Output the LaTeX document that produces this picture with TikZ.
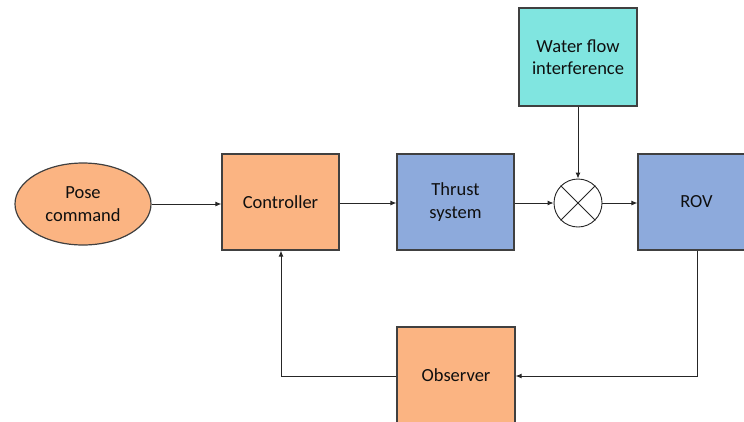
\documentclass[tikz,border=0pt]{standalone}
\usepackage{fontspec}
\setmainfont{Carlito}
\usetikzlibrary{arrows.meta,shapes.geometric}
\definecolor{boxorange}{RGB}{251,180,130}
\definecolor{boxblue}{RGB}{141,170,220}
\definecolor{boxteal}{RGB}{128,229,224}
\definecolor{edgegray}{RGB}{64,64,64}
\definecolor{txt}{RGB}{15,15,15}
\tikzset{
  block/.style={draw=edgegray, line width=1.2pt, minimum width=117pt, minimum height=96pt,
    inner sep=0pt, align=center, text=txt, font=\fontsize{18.5}{22.5}\selectfont},
  orangeblock/.style={block, fill=boxorange},
  blueblock/.style={block, fill=boxblue},
  tealblock/.style={block, fill=boxteal},
  link/.style={draw=black!85, line width=0.9pt, -{Latex[length=6pt,width=5pt]}},
  plain/.style={draw=black!85, line width=0.9pt}
}
\begin{document}
\begin{tikzpicture}[x=1pt,y=-1pt]
  \useasboundingbox (0,0) rectangle (744,421);
  \clip (0,0) rectangle (744,421);
  % blocks
  \node[ellipse, draw=edgegray, line width=1.2pt, fill=boxorange, minimum width=136pt,
    minimum height=82pt, inner sep=0pt, align=center, text=txt,
    font=\fontsize{18.5}{22.5}\selectfont] (pose) at (83,204) {Pose\\command};
  \node[orangeblock] (ctrl) at (280.5,202) {Controller};
  \node[blueblock] (thrust) at (455.5,202) {Thrust\\system};
  \node[tealblock, minimum width=118pt, minimum height=98pt] (water) at (578,57) {Water flow\\interference};
  \node[circle, draw=black!85, line width=0.9pt, fill=white, minimum size=48pt, inner sep=0pt] (sum) at (578,203) {};
  \draw[plain] (sum.north west) -- (sum.south east) (sum.north east) -- (sum.south west);
  \node[blueblock] (rov) at (696.5,202) {ROV};
  \node[orangeblock, minimum width=118pt] (obs) at (456,375) {Observer};
  % forward path
  \draw[link] (pose.east) -- (ctrl.west |- pose.east);
  \draw[link] (ctrl.east |- sum) -- (thrust.west |- sum);
  \draw[link] (thrust.east |- sum) -- (sum.west);
  \draw[link] (sum.east) -- (rov.west |- sum);
  \draw[link] (water.south) -- (sum.north);
  % feedback path
  \coordinate (fbr) at (697,376);
  \coordinate (fbl) at (281,376);
  \draw[link] (rov.south -| fbr) -- (fbr) -- (obs.east |- fbr);
  \draw[link] (obs.west |- fbl) -- (fbl) -- (ctrl.south -| fbl);
\end{tikzpicture}
\end{document}
